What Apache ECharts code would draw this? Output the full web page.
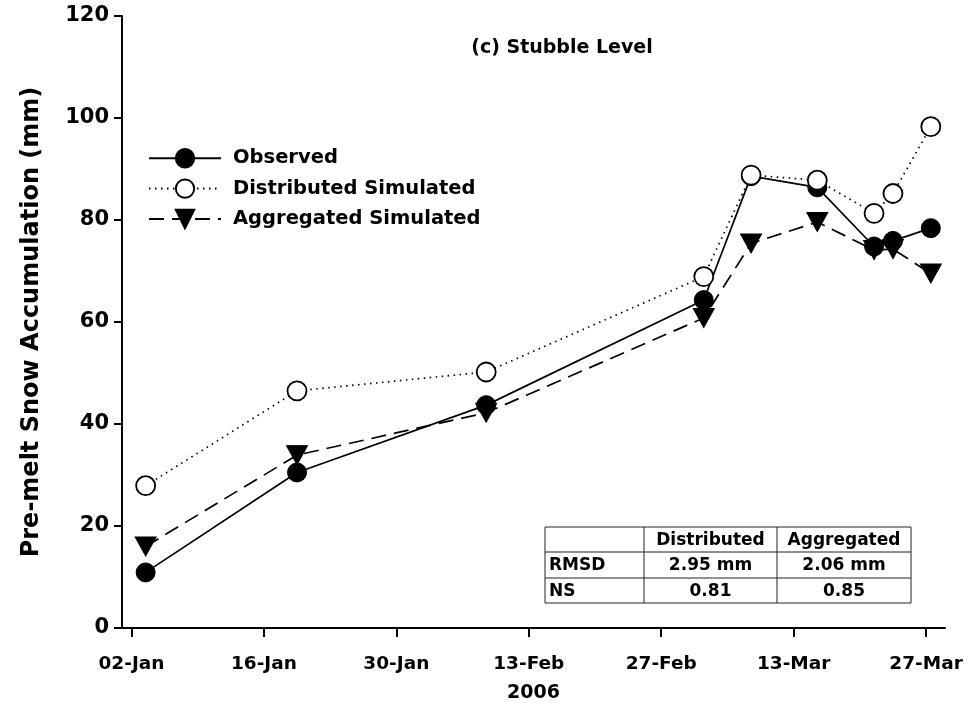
<!DOCTYPE html>
<html>
<head>
<meta charset="utf-8">
<script src="https://cdn.jsdelivr.net/npm/echarts@6/dist/echarts.min.js"></script>
<style>
html,body{margin:0;padding:0;background:#fff;}
#chart{width:974px;height:710px;}
</style>
</head>
<body>
<div id="chart"></div>
<script>
// ---- data ----
const dates = ['2006-01-03 12:00','2006-01-19 12:00','2006-02-08 12:00','2006-03-03 12:00','2006-03-08 12:00','2006-03-15 12:00','2006-03-21 12:00','2006-03-23 12:00','2006-03-27 12:00'];
const observed    = [10.9, 30.5, 43.7, 64.3, 88.6, 86.4, 74.8, 75.9, 78.4];
const distributed = [27.9, 46.5, 50.2, 68.9, 88.8, 87.8, 81.3, 85.2, 98.3];
const aggregated  = [16.0, 33.9, 42.2, 60.8, 75.4, 79.6, 74.1, 74.3, 69.5];
const tickDates  = ['2006-01-02','2006-01-16','2006-01-30','2006-02-13','2006-02-27','2006-03-13','2006-03-27'];
const tickLabels = ['02-Jan','16-Jan','30-Jan','13-Feb','27-Feb','13-Mar','27-Mar'];
const yTicks = [0, 20, 40, 60, 80, 100, 120];
const tableHeader = ['', 'Distributed', 'Aggregated'];
const tableRows = [
  ['RMSD', '2.95 mm', '2.06 mm'],
  ['NS', '0.81', '0.85']
];

function toTime(s){
  const parts = s.split(' ');
  const d = parts[0].split('-').map(Number);
  const t = (parts[1] || '00:00').split(':').map(Number);
  return new Date(d[0], d[1]-1, d[2], t[0], t[1]).getTime();
}
const tickTimes = tickDates.map(toTime);
const FONT = 'DejaVu Sans';

function pairs(vals){ return vals.map((v,i)=>[toTime(dates[i]), v]); }

const chart = echarts.init(document.getElementById('chart'), null, {renderer:'canvas'});

// table graphic
const colX = [545, 644, 777, 911];
const rowY = [527, 552, 578, 603];
const tableEls = [];
rowY.forEach(y => tableEls.push({type:'line', shape:{x1:colX[0], y1:y, x2:colX[3], y2:y}, style:{stroke:'#222', lineWidth:1}}));
colX.forEach(x => tableEls.push({type:'line', shape:{x1:x, y1:rowY[0], x2:x, y2:rowY[3]}, style:{stroke:'#222', lineWidth:1}}));
const allRows = [tableHeader].concat(tableRows);
allRows.forEach((row, r) => {
  row.forEach((txt, c) => {
    if (!txt) return;
    const left = c === 0;
    tableEls.push({
      type:'text',
      style:{
        text: txt,
        x: left ? colX[0] + 4 : (colX[c] + colX[c+1]) / 2,
        y: (rowY[r] + rowY[r+1]) / 2 + 1,
        align: left ? 'left' : 'center',
        verticalAlign: 'middle',
        fontFamily: FONT, fontWeight: 'bold', fontSize: 17, fill: '#000'
      }
    });
  });
});

const option = {
  backgroundColor: '#fff',
  animation: false,
  title: {
    text: '(c) Stubble Level',
    left: 557, top: 34, textAlign: 'center',
    textStyle: {fontFamily: FONT, fontWeight: 'bold', fontSize: 19, color: '#000'}
  },
  legend: {
    orient: 'vertical',
    left: 148, top: 148, padding: 0,
    itemWidth: 72, itemHeight: 23, itemGap: 10,
    data: ['Observed', 'Distributed Simulated', 'Aggregated Simulated'],
    textStyle: {fontFamily: FONT, fontWeight: 'bold', fontSize: 19.5, color: '#000', padding: [0,0,0,7]}
  },
  grid: {left: 122, right: 29, top: 16, bottom: 82, containLabel: false},
  xAxis: {
    type: 'value',
    min: toTime('2006-01-01'),
    max: toTime('2006-03-29'),
    name: '2006',
    nameLocation: 'middle',
    nameGap: 56,
    nameTextStyle: {fontFamily: FONT, fontWeight: 'bold', fontSize: 19, color: '#000'},
    axisLine: {show: true, lineStyle: {color: '#000', width: 2}},
    axisTick: {show: true, inside: false, length: 9, lineStyle: {color: '#000', width: 2}, customValues: tickTimes},
    axisLabel: {
      customValues: tickTimes,
      margin: 27,
      fontFamily: FONT, fontWeight: 'bold', fontSize: 18.5, color: '#000',
      formatter: function(v){ const i = tickTimes.indexOf(v); return i >= 0 ? tickLabels[i] : ''; }
    },
    splitLine: {show: false},
    minorTick: {show: false}
  },
  yAxis: {
    type: 'value',
    min: yTicks[0], max: yTicks[yTicks.length-1], interval: 20,
    name: 'Pre-melt Snow Accumulation (mm)',
    nameLocation: 'middle',
    nameGap: 78,
    nameTextStyle: {fontFamily: FONT, fontWeight: 'bold', fontSize: 24, color: '#000'},
    axisLine: {show: true, lineStyle: {color: '#000', width: 2}},
    axisTick: {show: true, inside: false, length: 8, lineStyle: {color: '#000', width: 2}},
    axisLabel: {margin: 13, fontFamily: FONT, fontWeight: 'bold', fontSize: 21, color: '#000'},
    splitLine: {show: false}
  },
  series: [
    {
      name: 'Observed', type: 'line', data: pairs(observed),
      symbol: 'circle', symbolSize: 19,
      lineStyle: {color: '#000', width: 1.7, type: 'solid'},
      itemStyle: {color: '#000', borderColor: '#000', borderWidth: 1},
      z: 2
    },
    {
      name: 'Aggregated Simulated', type: 'line', data: pairs(aggregated),
      symbol: 'triangle', symbolSize: [21, 19], symbolRotate: 180,
      lineStyle: {color: '#000', width: 1.7, type: [15, 8]},
      itemStyle: {color: '#000', borderColor: '#000', borderWidth: 1},
      z: 3
    },
    {
      name: 'Distributed Simulated', type: 'line', data: pairs(distributed),
      symbol: 'circle', symbolSize: 19,
      lineStyle: {color: '#000', width: 1.7, type: [1.5, 4.5]},
      itemStyle: {color: '#fff', borderColor: '#000', borderWidth: 1.8},
      z: 4
    }
  ],
  graphic: [
    {type:'line', shape:{x1:114, y1:628, x2:123, y2:628}, style:{stroke:'#000', lineWidth:2}, silent:true}
  ].concat(tableEls)
};
chart.setOption(option);
</script>
</body>
</html>
